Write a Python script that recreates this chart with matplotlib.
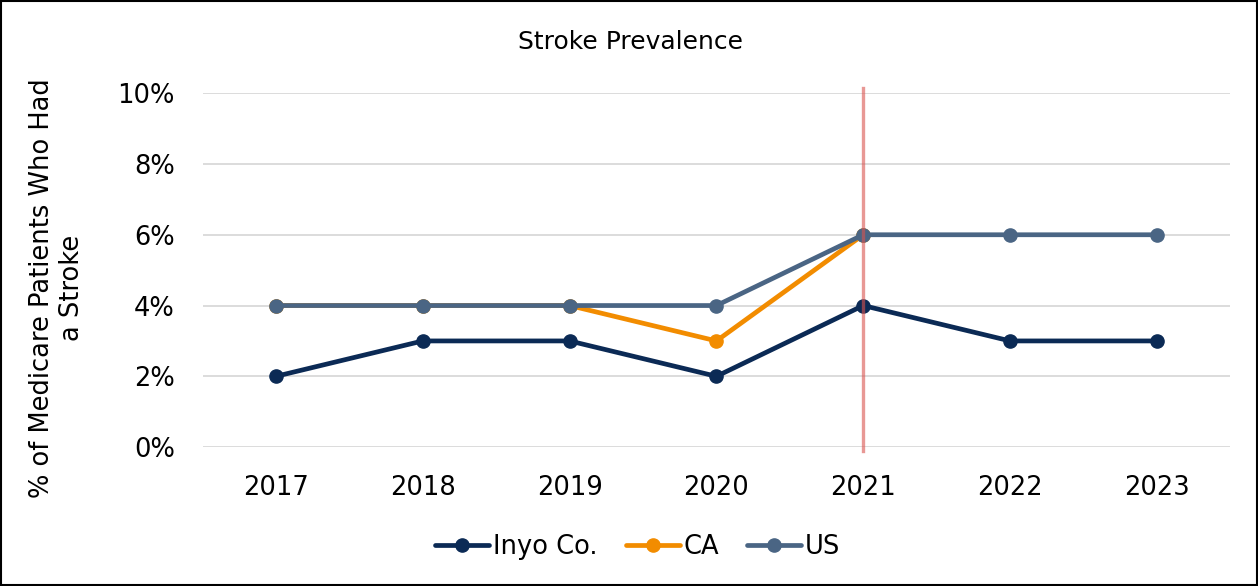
import matplotlib.pyplot as plt
from matplotlib.ticker import PercentFormatter
from matplotlib.patches import Rectangle

years = ["2017", "2018", "2019", "2020", "2021", "2022", "2023"]
inyo = [0.02, 0.03, 0.03, 0.02, 0.04, 0.03, 0.03]
ca = [0.04, 0.04, 0.04, 0.03, 0.06, None, None]
us = [0.04, 0.04, 0.04, 0.04, 0.06, 0.06, 0.06]
marker_year = "2021"


def main():
    plt.rcParams['font.family'] = ['DejaVu Sans']
    fig = plt.figure(figsize=(12.58, 5.86), dpi=100)
    ax = fig.add_axes([0.161, 0.237, 0.817, 0.604])

    x = list(range(len(years)))
    ca_x = [i for i, v in zip(x, ca) if v is not None]
    ca_y = [v for v in ca if v is not None]

    style = dict(linewidth=3.4, marker='o', markersize=9.5, solid_capstyle='round')
    ax.plot(x, inyo, color='#0B2A55', label="Inyo Co.", **style)
    ax.plot(ca_x, ca_y, color='#F28C00', label="CA", **style)
    ax.plot(x, us, color='#4A6584', label="US", **style)

    # vertical marker
    ax.axvline(years.index(marker_year), ymin=-0.01, ymax=1.015, clip_on=False,
               color='#D9534F', alpha=0.6, linewidth=2.4, zorder=5)

    ax.set_xlim(-0.5, len(years) - 0.5)
    ax.set_ylim(0, 0.10)
    ax.set_yticks([0, 0.02, 0.04, 0.06, 0.08, 0.10])
    ax.yaxis.set_major_formatter(PercentFormatter(1.0, decimals=0))
    ax.set_xticks(x)
    ax.set_xticklabels(years)
    ax.tick_params(axis='both', length=0, labelsize=18.5)
    ax.tick_params(axis='x', pad=20)
    ax.tick_params(axis='y', pad=20)
    ax.grid(axis='y', color='#D9D9D9', linewidth=1.3, zorder=0)
    ax.set_axisbelow(True)
    for s in ax.spines.values():
        s.set_visible(False)

    fig.text(0.501, 0.928, "Stroke Prevalence", ha='center', va='center', fontsize=18)
    fig.text(0.045, 0.508, "% of Medicare Patients Who Had\na Stroke", ha='center', va='center',
             rotation=90, fontsize=18.5, linespacing=1.2)

    fig.legend(loc='center', bbox_to_anchor=(0.507, 0.066), ncol=3, frameon=False,
               fontsize=18.5, handlelength=2.1, handletextpad=0.15, columnspacing=1.1)

    fig.patches.append(Rectangle((0.001, 0.002), 0.998, 0.996, transform=fig.transFigure,
                                 fill=False, edgecolor='black', linewidth=1.5))

    fig.savefig("out.png", dpi=100)


if __name__ == '__main__':
    main()
